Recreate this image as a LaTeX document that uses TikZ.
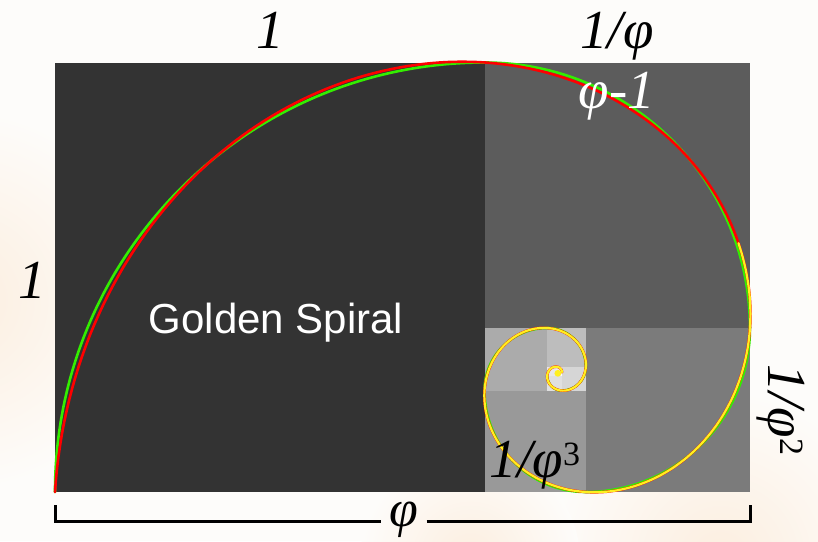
\documentclass[tikz,border=0pt]{standalone}
\usepackage{fontspec}
\setmainfont{Liberation Serif}
\newfontfamily\sansf{Liberation Sans}
\usetikzlibrary{calc}
\definecolor{bgc}{HTML}{FDFCFA}
\definecolor{peach}{HTML}{FCEEDF}
\definecolor{sqa}{HTML}{333333}
\definecolor{sqb}{HTML}{5C5C5C}
\definecolor{sqc}{HTML}{7B7B7B}
\definecolor{sqd}{HTML}{999999}
\definecolor{sqe}{HTML}{ABABAB}
\definecolor{sqf}{HTML}{BDBDBD}
\definecolor{sqg}{HTML}{D6D6D6}
\definecolor{sqh}{HTML}{E0E0E0}
\definecolor{sqi}{HTML}{E8E8E8}
\definecolor{sqj}{HTML}{EEEEEE}
\definecolor{spred}{HTML}{FF0000}
\definecolor{spgreen}{HTML}{33EE00}
\definecolor{spyellow}{HTML}{FFF020}
\begin{document}
\begin{tikzpicture}[x=1pt,y=-1pt,
  lab/.style={font=\fontsize{55}{55}\selectfont\itshape, inner sep=0pt},
  bracket/.style={line width=3pt, line cap=butt, line join=miter},
  spiralline/.style={line width=2.6pt, line cap=round, line join=round}]
\useasboundingbox (0,0) rectangle (818,541);
\fill[bgc] (0,0) rectangle (818,541);
% faint background blobs
\begin{scope}
  \clip (0,0) rectangle (818,541);
  \shade[inner color=peach, outer color=bgc] (-40,300) circle[radius=190];
  \shade[inner color=peach, outer color=bgc] (720,560) circle[radius=170];
  \shade[inner color=peach, outer color=bgc] (470,560) circle[radius=110];
\end{scope}

\begin{scope}[shift={(55,492)}, x=429.5pt, y=429.5pt]
  % squares
  \fill[sqa] (0,0) rectangle (1,1);
  \fill[sqb] (1,0.381966) rectangle (1.618034,1);
  \fill[sqc] (1.236068,0) rectangle (1.618034,0.381966);
  \fill[sqd] (1,0) rectangle (1.236068,0.236068);
  \fill[sqe] (1,0.236068) rectangle (1.145898,0.381966);
  \fill[sqf] (1.145898,0.291796) rectangle (1.236068,0.381966);
  \fill[sqg] (1.180340,0.236068) rectangle (1.236068,0.291796);
  \fill[sqh] (1.145898,0.236068) rectangle (1.180340,0.270510);
  \fill[sqi] (1.145898,0.270510) rectangle (1.167184,0.291796);
  \fill[sqj] (1.167184,0.278640) rectangle (1.180340,0.291796);
  % circular-arc spiral (green)
  \draw[spiralline, spgreen] (0,0)
    arc[start angle=180, end angle=90, radius=1]
    arc[start angle=90, end angle=0, radius=0.618034]
    arc[start angle=0, end angle=-90, radius=0.381966]
    arc[start angle=-90, end angle=-180, radius=0.236068]
    arc[start angle=180, end angle=90, radius=0.145898]
    arc[start angle=90, end angle=0, radius=0.090170]
    arc[start angle=0, end angle=-90, radius=0.055728]
    arc[start angle=-90, end angle=-180, radius=0.034442];
  % logarithmic spiral (red)
  \draw[spiralline, spred] plot[domain=0:10, samples=700, variable=\t]
    ({1.170820+exp(-0.481212*\t)*(-1.170820*cos(90*\t)-0.276393*sin(90*\t))},
     {0.276393+exp(-0.481212*\t)*(1.170820*sin(90*\t)-0.276393*cos(90*\t))});
  % yellow spiral
  \draw[line width=2.2pt, line cap=round, spyellow] plot[domain=1.75:10, samples=600, variable=\t]
    ({1.170820+exp(-0.481212*\t)*(-1.170820*cos(90*\t)-0.276393*sin(90*\t))},
     {0.276393+exp(-0.481212*\t)*(1.170820*sin(90*\t)-0.276393*cos(90*\t))});
  \fill[spyellow] (1.170820,0.276393) circle[radius=0.008];
\end{scope}

% labels
\node[lab, anchor=base] (topone) at (270,48) {1};
\node[lab, anchor=base] (invphi) at (617,48) {1/φ};
\node[lab, anchor=base, text=white] (phimin) at (617,108) {φ-1};
\node[lab, anchor=base] (leftone) at (32,298) {1};
\node[anchor=base, inner sep=0pt, text=white, font=\sansf\fontsize{42}{42}\selectfont] (title) at (276,333) {Golden Spiral};
\node[lab, anchor=base] (invphithree) at (535,477) {1/φ\raisebox{12pt}{\upshape\fontsize{34}{34}\selectfont 3}};
\node[lab, anchor=base, rotate=-90] (invphitwo) at (768,410) {1/φ\raisebox{12pt}{\upshape\fontsize{34}{34}\selectfont 2}};

% bracket
\node[anchor=base, inner xsep=8pt, inner ysep=0pt, font=\fontsize{52}{52}\selectfont\itshape] (phi) at (404,526) {φ};
\coordinate (lt) at (55,505);
\coordinate (lb) at (55,521);
\coordinate (rt) at (750,505);
\coordinate (rb) at (750,521);
\draw[bracket] (lt) -- (lb) -- (lb -| phi.west);
\draw[bracket] (rb -| phi.east) -- (rb) -- (rt);
\end{tikzpicture}
\end{document}
